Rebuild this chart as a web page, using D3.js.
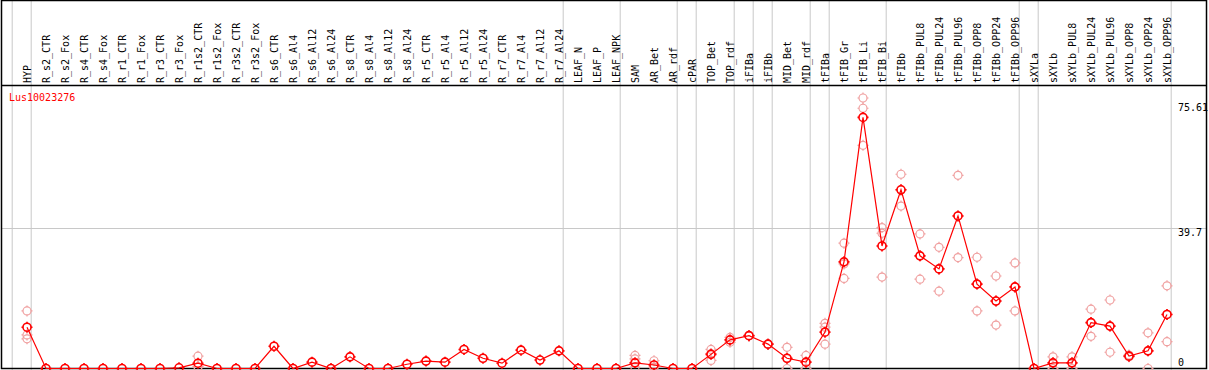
<!DOCTYPE html>
<html>
<head>
<meta charset="utf-8">
<script src="https://cdn.jsdelivr.net/npm/d3@7"></script>
<style>
  body { margin: 0; background: #fff; }
  svg { display: block; }
  text { font-family: "DejaVu Sans Mono", monospace; }
</style>
</head>
<body>
<div id="chart"></div>
<script>
// sample names, left to right
const samples = ["HYP","R_s2_CTR","R_s2_Fox","R_s4_CTR","R_s4_Fox","R_r1_CTR","R_r1_Fox","R_r3_CTR","R_r3_Fox",
  "R_r1s2_CTR","R_r1s2_Fox","R_r3s2_CTR","R_r3s2_Fox","R_s6_CTR","R_s6_Al4","R_s6_Al12","R_s6_Al24",
  "R_s8_CTR","R_s8_Al4","R_s8_Al12","R_s8_Al24","R_r5_CTR","R_r5_Al4","R_r5_Al12","R_r5_Al24",
  "R_r7_CTR","R_r7_Al4","R_r7_Al12","R_r7_Al24","LEAF_N","LEAF_P","LEAF_NPK","SAM","AR_Bet","AR_rdf",
  "cPAR","TOP_Bet","TOP_rdf","iFIBa","iFIBb","MID_Bet","MID_rdf","tFIBa","tFIB_Gr","tFIB_Li","tFIB_Bi",
  "tFIBb","tFIBb_PUL8","tFIBb_PUL24","tFIBb_PUL96","tFIBb_OPP8","tFIBb_OPP24","tFIBb_OPP96",
  "sXYLa","sXYLb","sXYLb_PUL8","sXYLb_PUL24","sXYLb_PUL96","sXYLb_OPP8","sXYLb_OPP24","sXYLb_OPP96"];

// number of samples in each group (grey separators)
const groupSizes = [1, 28, 3, 3, 1, 2, 1, 1, 2, 1, 3, 7, 1, 7];

// mean expression per sample
const means = [11.7,0,0,0,0,0,0,0,0.2,1.5,0,0,0,6.3,0,1.8,0,3.3,0,0,1.2,2.1,1.8,5.4,2.9,1.5,5.2,2.4,5.0,
  0,0,0,1.6,1.0,0,0,4.0,8.1,9.3,6.9,2.9,1.8,10.3,30.2,71.1,34.7,50.6,31.9,28.2,43.2,23.9,19.1,23.1,
  0,1.6,1.6,13.0,12.0,3.5,5.0,15.3];

// individual replicates (only where they stand apart from the mean)
const replicates = [
  [16.3,9.5,8.4],[],[],[],[],[],[],[],[],[3.5,0.5,0.5],[],[],[],[],[],[],[],[],[],[],[],[],[],[],[],[],[],[],[],
  [],[],[],[3.7,2.7,0.3],[2.2,0.4,0.3],[],[],[5.4,2.3,4.2],[8.8,7.4,8.1],[9.3,9.3,9.3],[6.9,6.9,6.9],[6.0,0,2.8],[3.7,0,1.8],
  [12.8,11.7,6.9],[35.5,29.6,25.5],[76.6,73.7,63.2],[39.9,38.3,25.9],[55.0,50.6,46.0],[38.1,31.9,25.3],[34.3,28.2,21.9],
  [54.7,43.2,31.4],[31.5,23.9,16.3],[26.2,19.1,12.3],[29.9,23.1,16.3],
  [],[3.3,1.6,0],[3.3,1.6,0],[16.8,13.0,9.1],[19.4,12.0,4.6],[3.8,3.5,3.3],[10.1,5.0,0],[23.4,15.3,7.6]];

const geneName = "Lus10023276";
const tickValues = [0, 39.7, 75.61];
const tickLabels = ["0", "39.7", "75.61"];

const W = 1209, H = 370;
const headerY = 85, bottomY = 368.5;

const svg = d3.select("#chart").append("svg").attr("width", W).attr("height", H);

const x = d3.scalePoint().domain(samples).range([27, 27 + 19 * (samples.length - 1)]);
const y = d3.scaleLinear().domain([0, 39.7]).range([bottomY, 228.3]);

// grey separators between groups
let sepIdx = [-1];
let acc = 0;
groupSizes.forEach(n => { acc += n; sepIdx.push(acc - 1); });
svg.selectAll("line.sep").data(sepIdx).enter().append("line")
  .attr("class", "sep")
  .attr("x1", i => 27 + 19 * i + 4.2).attr("x2", i => 27 + 19 * i + 4.2)
  .attr("y1", 0).attr("y2", H)
  .attr("stroke", "#c8c8c8").attr("stroke-width", 1);

// mid gridline
svg.append("line")
  .attr("x1", 1).attr("x2", 1207)
  .attr("y1", Math.round(y(39.7)) + 0.5).attr("y2", Math.round(y(39.7)) + 0.5)
  .attr("stroke", "#c8c8c8");

// frame
svg.append("rect").attr("x", 1.5).attr("y", 0.5).attr("width", 1205).attr("height", 368)
  .attr("fill", "none").attr("stroke", "#000").attr("stroke-width", 1.5);
svg.append("line").attr("x1", 1).attr("x2", 1207).attr("y1", headerY + 0.5).attr("y2", headerY + 0.5)
  .attr("stroke", "#000").attr("stroke-width", 1.5);

// sample labels, rotated
svg.selectAll("text.lab").data(samples).enter().append("text")
  .attr("class", "lab")
  .attr("transform", d => `translate(${x(d) + 3.5},83) rotate(-90)`)
  .attr("font-size", "10px")
  .attr("fill", "#000")
  .text(d => d);

// value labels on the right
svg.selectAll("text.tick").data(tickValues).enter().append("text")
  .attr("class", "tick")
  .attr("x", 1178)
  .attr("y", (d, i) => i === 0 ? 366 : y(d) + (i === 1 ? 8 : 10))
  .attr("font-size", "10px")
  .text((d, i) => tickLabels[i]);

svg.append("text").attr("x", 9).attr("y", 101).attr("font-size", "10px")
  .attr("fill", "#ff0000").text(geneName);

function marker(g, cx, cy, color, sw) {
  g.append("circle").attr("cx", cx).attr("cy", cy).attr("r", 4)
    .attr("fill", "none").attr("stroke", color).attr("stroke-width", sw);
  [[0,-1],[0,1],[-1,0],[1,0]].forEach(([dx, dy]) => {
    g.append("line")
      .attr("x1", cx + dx * 4).attr("y1", cy + dy * 4)
      .attr("x2", cx + dx * 5.5).attr("y2", cy + dy * 5.5)
      .attr("stroke", color).attr("stroke-width", sw);
  });
}

// replicate circles
const repG = svg.append("g");
replicates.forEach((reps, i) => {
  reps.forEach(v => marker(repG, x(samples[i]), y(v), "#f0a0a0", 1.2));
});

// mean line
svg.append("path")
  .datum(means)
  .attr("fill", "none").attr("stroke", "#ff0000").attr("stroke-width", 1.2)
  .attr("d", d3.line().x((d, i) => x(samples[i])).y(d => y(d)));

// mean markers
const meanG = svg.append("g");
means.forEach((v, i) => marker(meanG, x(samples[i]), y(v), "#ff0000", 1.6));
</script>
</body>
</html>
